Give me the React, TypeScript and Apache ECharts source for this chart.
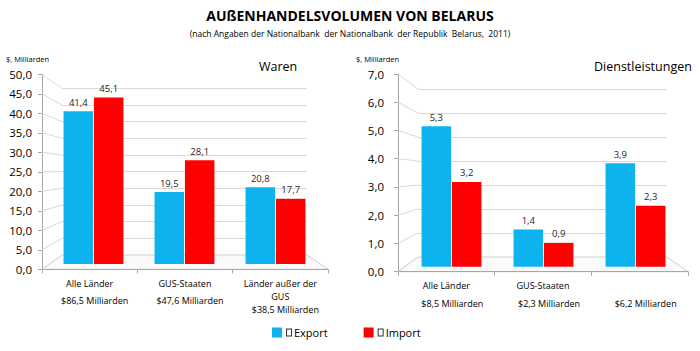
import React, { useEffect, useRef } from 'react';
import * as echarts from 'echarts';

const warenCategories = ['Alle Länder', 'GUS-Staaten', 'Länder außer der\nGUS'];
const warenTotals = ['$86,5 Milliarden', '$47,6 Milliarden', '$38,5 Milliarden'];
const warenExport = [41.4, 19.5, 20.8];
const warenImport = [45.1, 28.1, 17.7];

const dienstCategories = ['Alle Länder', 'GUS-Staaten', ''];
const dienstTotals = ['$8,5 Milliarden', '$2,3 Milliarden', '$6,2 Milliarden'];
const dienstExport = [5.3, 1.4, 3.9];
const dienstImport = [3.2, 0.9, 2.3];

const warenTicks = { min: 0, max: 50, interval: 5 };
const dienstTicks = { min: 0, max: 7, interval: 1 };

const FONT = 'Open Sans';
const BLUE = '#0DB3EF';
const RED = '#FE0000';
const AXIS = '#A6A6A6';
const GRID = '#D9D9D9';

// layout (pixels)
const L = { fl: 42, ft: 74.3, fr: 328, fb: 269.3, bl: 62, bt: 88.3, br: 307, bb: 255, xl: 48, xr: 321, xt: 79.5, xb: 264 };
const R = { fl: 398, ft: 74, fr: 688, fb: 271.7, bl: 418, bt: 89, br: 667, bb: 257, xl: 405.5, xr: 681.5, xt: 81.2, xb: 266.7 };
const W = 700, H = 351;

const fmt = (v: number) => v.toFixed(1).replace('.', ',');

function grid(g: any) {
  return { left: g.l, top: g.t, width: g.r - g.l, height: g.b - g.t, containLabel: false };
}

export default function App() {
  const ref = useRef<HTMLDivElement>(null);
  useEffect(() => {
    if (!ref.current) return;
    const chart = echarts.init(ref.current, undefined, { renderer: 'svg' });
    const hiddenCat = (gi: number, data: string[]) => ({
      type: 'category', gridIndex: gi, data, show: false,
    });
    const hiddenVal = (gi: number, t: any) => ({
      type: 'value', gridIndex: gi, ...t, show: false, splitLine: { show: false },
    });
    const frontY = (gi: number, t: any, margin: number) => ({
      type: 'value', gridIndex: gi, ...t,
      axisLine: { show: true, lineStyle: { color: AXIS } },
      axisTick: { show: true, length: 4, lineStyle: { color: AXIS } },
      splitLine: { show: false },
      axisLabel: { margin, fontFamily: FONT, fontSize: 11.5, color: '#000', formatter: (v: number) => fmt(v) },
    });
    const backY = (gi: number, t: any) => ({
      type: 'value', gridIndex: gi, ...t,
      axisLine: { show: false }, axisTick: { show: false }, axisLabel: { show: false },
      splitLine: { show: true, lineStyle: { color: GRID } },
    });
    const nameX = (gi: number, data: string[]) => ({
      type: 'category', gridIndex: gi, data, position: 'bottom',
      axisLine: { show: true, lineStyle: { color: AXIS } },
      axisTick: { show: true, length: 4, lineStyle: { color: AXIS } },
      axisLabel: { margin: 8, fontFamily: FONT, fontSize: 9, color: '#000', lineHeight: 12.5, interval: 0 },
    });
    const totalX = (gi: number, data: string[], shift: number, lastDrop: number) => ({
      type: 'category', gridIndex: gi, position: 'bottom',
      data: data.map((d, i) => (i === data.length - 1 && lastDrop
        ? { value: d, textStyle: { padding: [lastDrop, 0, 0, shift] } }
        : d)),
      axisLine: { show: false }, axisTick: { show: false },
      axisLabel: { margin: 27, fontFamily: FONT, fontSize: 9, color: '#000', interval: 0, verticalAlign: 'top', padding: [0, 0, 0, shift] },
    });
    const barLabel = {
      show: true, position: 'top', distance: 4, fontFamily: FONT, fontSize: 9.5, color: '#262626',
      formatter: (p: any) => fmt(p.value),
    };
    const option: any = {
      animation: false,
      grid: [
        grid({ l: L.fl, t: L.ft, r: L.fr, b: L.fb }),
        grid({ l: L.bl, t: L.bt, r: L.br, b: L.bb }),
        grid({ l: L.xl, t: L.xt, r: L.xr, b: L.xb }),
        grid({ l: R.fl, t: R.ft, r: R.fr, b: R.fb }),
        grid({ l: R.bl, t: R.bt, r: R.br, b: R.bb }),
        grid({ l: R.xl, t: R.xt, r: R.xr, b: R.xb }),
      ],
      xAxis: [
        nameX(0, warenCategories),
        totalX(0, warenTotals, 10, 9),
        hiddenCat(1, warenCategories),
        hiddenCat(2, warenCategories),
        nameX(3, dienstCategories),
        totalX(3, dienstTotals, 12, 0),
        hiddenCat(4, dienstCategories),
        hiddenCat(5, dienstCategories),
      ],
      yAxis: [
        frontY(0, warenTicks, 10),
        backY(1, warenTicks),
        hiddenVal(2, warenTicks),
        frontY(3, dienstTicks, 14),
        backY(4, dienstTicks),
        hiddenVal(5, dienstTicks),
      ],
      legend: {
        data: ['Export', 'Import'],
        left: 267, top: 322, itemWidth: 10, itemHeight: 10, itemGap: 36,
        icon: 'rect',
        formatter: (n: string) => `{b|}{t|${n}}`,
        textStyle: {
          fontFamily: FONT, fontSize: 11, color: '#000',
          rich: {
            b: { width: 4, height: 6, borderColor: '#333', borderWidth: 1, backgroundColor: '#fff' },
            t: { fontFamily: FONT, fontSize: 11, color: '#000', padding: [0, 0, 0, 3] },
          },
        },
      },
      series: [
        { name: 'Export', type: 'bar', xAxisIndex: 3, yAxisIndex: 2, data: warenExport, barWidth: 29.5, barGap: '3%', itemStyle: { color: BLUE }, label: barLabel },
        { name: 'Import', type: 'bar', xAxisIndex: 3, yAxisIndex: 2, data: warenImport, barWidth: 29.5, barGap: '3%', itemStyle: { color: RED }, label: barLabel },
        { name: 'Export', type: 'bar', xAxisIndex: 7, yAxisIndex: 5, data: dienstExport, barWidth: 29.5, barGap: '3%', itemStyle: { color: BLUE }, label: barLabel },
        { name: 'Import', type: 'bar', xAxisIndex: 7, yAxisIndex: 5, data: dienstImport, barWidth: 29.5, barGap: '3%', itemStyle: { color: RED }, label: barLabel },
      ],
    };
    chart.setOption(option);

    const els: any[] = [];
    const addWalls = (g: any, t: any, fi: number, bi: number) => {
      const ticks: number[] = [];
      for (let v = t.min; v <= t.max + 1e-9; v += t.interval) ticks.push(v);
      ticks.forEach((v) => {
        const fy = chart.convertToPixel({ yAxisIndex: fi } as any, v) as any as number;
        const by = chart.convertToPixel({ yAxisIndex: bi } as any, v) as any as number;
        els.push({ type: 'line', z: 1, shape: { x1: g.fl, y1: fy, x2: g.bl, y2: by }, style: { stroke: GRID, lineWidth: 1 } });
      });
      const f0 = chart.convertToPixel({ yAxisIndex: fi } as any, t.min) as any as number;
      const b0 = chart.convertToPixel({ yAxisIndex: bi } as any, t.min) as any as number;
      els.push({
        type: 'polygon', z: 0,
        shape: { points: [[g.fl, f0], [g.bl, b0], [g.br, b0], [g.fr, f0]] },
        style: { fill: '#FAFAFA', stroke: '#CFCFCF', lineWidth: 1 },
      });
    };
    addWalls(L, warenTicks, 0, 1);
    addWalls(R, dienstTicks, 3, 4);

    els.push(
      { type: 'text', left: 'center', top: 8, style: { text: 'AUßENHANDELSVOLUMEN VON BELARUS', fontFamily: FONT, fontSize: 14, fontWeight: 'bold', fill: '#000' } },
      { type: 'text', left: 'center', top: 29, style: { text: '(nach Angaben der Nationalbank  der Nationalbank  der Republik  Belarus,  2011)', fontFamily: FONT, fontSize: 8.5, fill: '#000' } },
      { type: 'text', x: 6, y: 55, style: { text: '$, Milliarden', fontFamily: FONT, fontSize: 7.5, fill: '#000' } },
      { type: 'text', x: 356, y: 55, style: { text: '$, Milliarden', fontFamily: FONT, fontSize: 7.5, fill: '#000' } },
      { type: 'text', x: 259, y: 60, style: { text: 'Waren', fontFamily: FONT, fontSize: 12.5, fill: '#000' } },
      { type: 'text', x: 594, y: 60, style: { text: 'Dienstleistungen', fontFamily: FONT, fontSize: 12.5, fill: '#000' } },
    );
    chart.setOption({ graphic: { elements: els } });

    return () => chart.dispose();
  }, []);
  return <div ref={ref} style={{ width: W, height: H, position: 'absolute', left: 0, top: 0, background: '#fff' }} />;
}
